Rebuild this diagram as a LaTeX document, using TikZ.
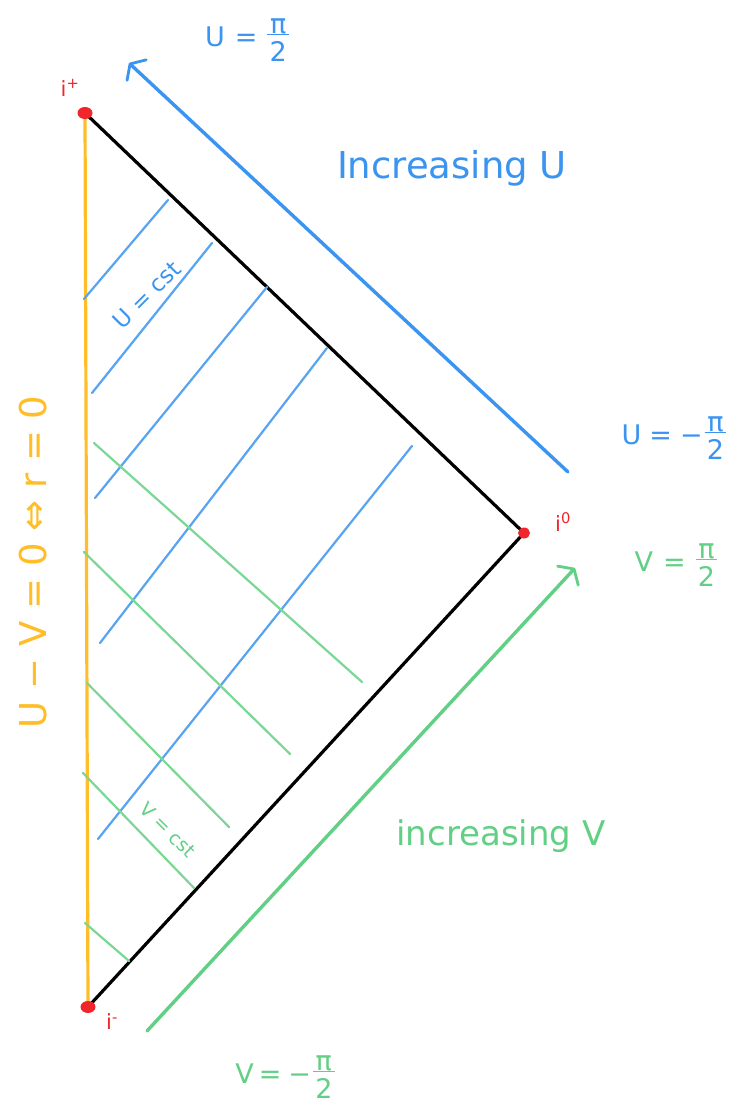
\documentclass[tikz,border=0pt]{standalone}
\usepackage{amsmath}
\usepackage{fontspec}
\setmainfont{DejaVu Sans}
\usetikzlibrary{arrows.meta, backgrounds, shapes.geometric}
\definecolor{ublue}{RGB}{58,148,240}
\definecolor{vgreen}{RGB}{98,208,132}
\definecolor{rzero}{RGB}{255,190,40}
\definecolor{dotred}{RGB}{240,38,44}
\newcommand{\halfpi}{$\vcenter{\hbox{\fontsize{27}{24}\selectfont
    \shortstack{π\\[-3pt]\rule{0.8em}{1.6pt}\\[3pt]2}}}$}

\begin{document}
\begin{tikzpicture}[x=1pt, y=-1pt,
    edge/.style={draw=black, line width=3.2pt, line cap=round},
    origin/.style={draw=rzero, line width=3.2pt},
    pt/.style={ellipse, fill=dotred, inner sep=0pt, minimum width=15pt, minimum height=12pt},
    ptlbl/.style={text=dotred, font=\fontsize{21}{23}\selectfont},
    ucst/.style={draw=ublue!85, line width=2.2pt, line cap=round},
    vcst/.style={draw=vgreen!85, line width=2.2pt, line cap=round},
    bound/.style={line width=3.4pt, line cap=round,
                  -{Straight Barb[length=9pt, width=28pt, line width=2.8pt, round]}},
    ulbl/.style={text=ublue, inner sep=0pt},
    vlbl/.style={text=vgreen, inner sep=0pt}
  ]
  \useasboundingbox (0,0) rectangle (739,1107);

  % corners
  \node[pt] (ip) at (85,113) {};
  \node[pt, minimum width=12pt, minimum height=11pt] (iz) at (524,533) {};
  \node[pt] (im) at (88,1007) {};
  \node[ptlbl] (ipl) at (70,88) {i\textsuperscript{+}};
  \node[ptlbl] (izl) at (563,522) {i\textsuperscript{0}};
  \node[ptlbl] (iml) at (112,1022) {i\textsuperscript{-}};

  \begin{scope}[on background layer]
    \fill[white] (0,0) rectangle (739,1107);
    \draw[origin] (ip.center) -- (im.center);
    \draw[edge] (ip.center) -- (iz.center) -- (im.center);
    % U = cst
    \foreach \xa/\ya/\xb/\yb in {84/299/168/200, 92/393/212/243, 95/498/267/287,
                                 100/643/327/348, 98/839/412/446}
      \draw[ucst] (\xa,\ya) -- (\xb,\yb);
    % V = cst
    \foreach \xa/\ya/\xb/\yb in {94/443/362/682, 84/552/290/754, 87/683/229/827,
                                 83/773/194/888, 85/923/129/961}
      \draw[vcst] (\xa,\ya) -- (\xb,\yb);
  \end{scope}

  % null boundaries
  \coordinate (ulo) at (568,472);
  \coordinate (uhi) at (129,63);
  \coordinate (vlo) at (147,1031);
  \coordinate (vhi) at (575,568);
  \draw[bound, draw=ublue] (ulo) -- (uhi);
  \draw[bound, draw=vgreen] (vlo) -- (vhi);

  % labels
  \node[ulbl, font=\fontsize{27}{29}\selectfont] (utop) at (247,40) {U\hspace{10pt}=\hspace{10pt}\halfpi};
  \node[ulbl, font=\fontsize{37}{42}\selectfont] (uinc) at (452,168) {Increasing U};
  \node[ulbl, font=\fontsize{27}{29}\selectfont] (ubot) at (674,438) {U\hspace{8pt}=\hspace{8pt}−\hspace{2pt}\halfpi};
  \node[vlbl, font=\fontsize{27}{29}\selectfont] (vtop) at (676,565) {V\hspace{10pt}=\hspace{10pt}\halfpi};
  \node[vlbl, font=\fontsize{34}{38}\selectfont] (vinc) at (501,836) {increasing V};
  \node[vlbl, font=\fontsize{27}{29}\selectfont] (vbot) at (285,1077) {V\hspace{5pt}=\hspace{7pt}−\hspace{2pt}\halfpi};
  \node[ulbl, font=\fontsize{23}{26}\selectfont, rotate=45] (ucl) at (147,295) {U = cst};
  \node[vlbl, font=\fontsize{19}{22}\selectfont, rotate=-45] (vcl) at (168,830) {V = cst};
  \node[text=rzero, font=\fontsize{37}{42}\selectfont, inner sep=0pt, rotate=90] (rl)
       at (33,562) {U − V = 0 ⇔ r = 0};
\end{tikzpicture}
\end{document}
